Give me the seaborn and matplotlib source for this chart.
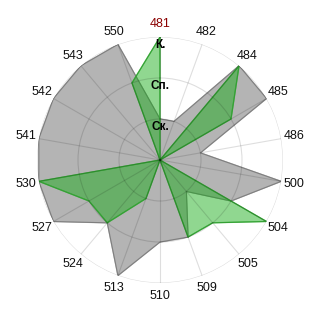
import numpy as np
import matplotlib
matplotlib.use("Agg")
import matplotlib.pyplot as plt
import seaborn as sns

categories = ['481', '482', '484', '485', '486', '500', '504', '505', '509',
              '510', '513', '524', '527', '530', '541', '542', '543', '550']
gray_values = [1, 1, 3, 3, 1, 3, 2, 1, 2, 2, 3, 2, 3, 3, 3, 3, 3, 3]
green_values = [3, 0, 3, 2, 0, 0, 3, 2, 2, 0, 1, 2, 2, 3, 0, 0, 0, 2]
level_values = [1, 2, 3]
level_labels = ['Ск.', 'Сп.', 'К.']
highlight = '481'

sns.set_theme(style="white")
plt.rcParams['font.family'] = ['Liberation Sans', 'DejaVu Sans']

n = len(categories)
theta = np.deg2rad(np.arange(n) * 360.0 / n)
theta_c = np.append(theta, theta[0] + 2 * np.pi)
gray_c = np.append(gray_values, gray_values[0])
green_c = np.append(green_values, green_values[0])

fig = plt.figure(figsize=(3.2, 3.2), dpi=100)
ax = fig.add_axes([37 / 320, 37 / 320, 246 / 320, 246 / 320], projection='polar')
ax.set_theta_zero_location('N')
ax.set_theta_direction(-1)

# gray series
ax.fill(theta_c, gray_c, color='#b4b4b4', zorder=1)
sns.lineplot(x=theta_c, y=gray_c, sort=False, estimator=None, ax=ax,
             color='#7f7f7f', linewidth=0.8, zorder=1.2)
# green series
ax.fill(theta_c, green_c, color=(20 / 255, 170 / 255, 20 / 255), alpha=0.47, zorder=1.5)
sns.lineplot(x=theta_c, y=green_c, sort=False, estimator=None, ax=ax,
             color='#34a034', linewidth=0.8, zorder=1.6)

ax.set_ylim(0, max(level_values))
ax.set_yticks(level_values)
ax.set_yticklabels([])
ax.set_xticks(theta)
ax.set_xticklabels([])
ax.set_xlabel('')
ax.set_ylabel('')
ax.set_axisbelow(False)
ax.grid(True, color='black', alpha=0.13, linewidth=0.8)
ax.spines['polar'].set_visible(False)

r_lab = max(level_values) * 136 / 123
for t, c in zip(theta, categories):
    ax.text(t, r_lab, c, ha='center', va='center', fontsize=9,
            color='#8b0000' if c == highlight else '#111111', zorder=5)

for v, lab in zip(level_values, level_labels):
    ax.text(0.004, v - 0.19, lab, ha='center', va='center', fontsize=8.5,
            fontweight='bold', color='black', zorder=5)

fig.savefig('out.png', dpi=100)
